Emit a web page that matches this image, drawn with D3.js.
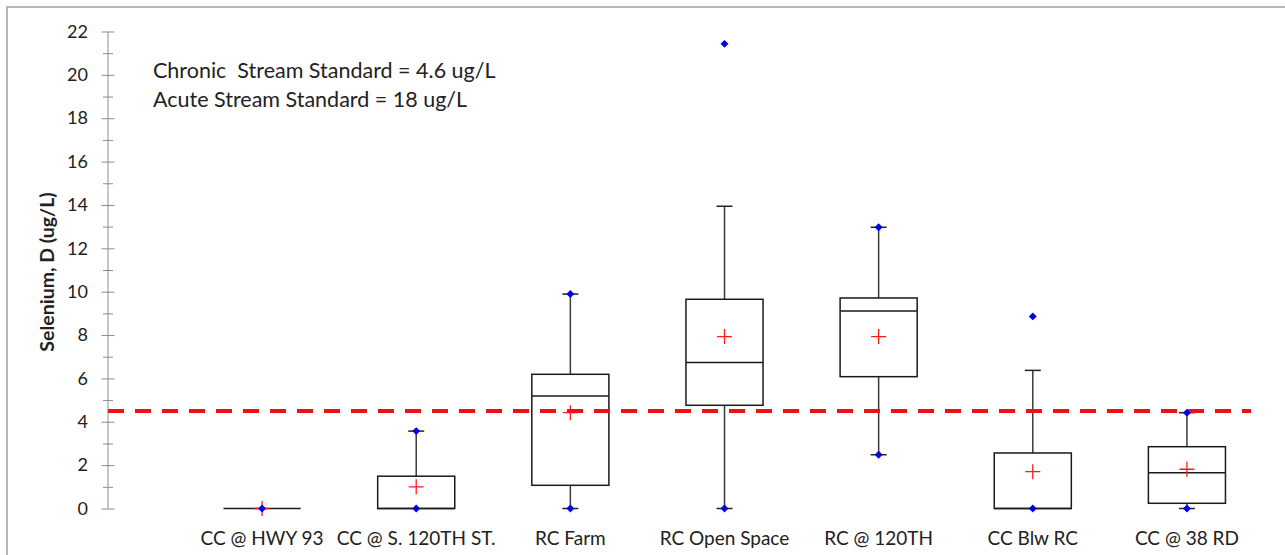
<!DOCTYPE html>
<html>
<head>
<meta charset="utf-8">
<script src="https://cdn.jsdelivr.net/npm/d3@7"></script>
<style>
  html, body { margin: 0; padding: 0; background: #fff; }
  svg { display: block; }
  text { font-family: Lato, "Open Sans", sans-serif; fill: #222; }
</style>
</head>
<body>
<svg id="chart" width="1285" height="555"></svg>
<script>
// ---- data ----
const categories = ["CC @ HWY 93", "CC @ S. 120TH ST.", "RC Farm", "RC Open Space", "RC @ 120TH", "CC Blw RC", "CC @ 38 RD"];
const q1Values      = [0, 0,    1.07, 4.76,  6.08,  0,    0.24];
const medianValues  = [0, 0,    5.19, 6.73,  9.11,  0,    1.65];
const q3Values      = [0, 1.49, 6.19, 9.65,  9.71,  2.56, 2.85];
const whiskerLow    = [0, 0,    0,    0,     2.48,  0,    0];
const whiskerHigh   = [0, 3.57, 9.89, 13.94, 12.97, 6.37, 4.42];
const meanValues    = [0, 1.0,  4.42, 7.93,  7.93,  1.70, 1.81];
const minValues     = [0, 0,    0,    0,     2.48,  0,    0];
const maxValues     = [0, 3.57, 9.89, 21.43, 12.97, 8.86, 4.42];
const majorTicks = [0, 2, 4, 6, 8, 10, 12, 14, 16, 18, 20, 22];
const minorTicks = [1, 3, 5, 7, 9, 11, 13, 15, 17, 19, 21];
const standardLine = 4.5;
const annotations = ["Chronic  Stream Standard = 4.6 ug/L", "Acute Stream Standard = 18 ug/L"];
const yTitle = "Selenium, D (ug/L)";

const rows = categories.map((c, i) => ({
  cat: c, q1: q1Values[i], med: medianValues[i], q3: q3Values[i],
  wlo: whiskerLow[i], whi: whiskerHigh[i], mean: meanValues[i],
  min: minValues[i], max: maxValues[i]
}));

const svg = d3.select("#chart");

// outer frame
svg.append("rect").attr("x", 7).attr("y", 7).attr("width", 1400).attr("height", 700)
  .attr("fill", "none").attr("stroke", "#a0a0a0").attr("stroke-width", 1.5);

const y = d3.scaleLinear().domain([0, 22]).range([508.5, 31.5]);
const x = d3.scaleBand().domain(categories).range([185, 1264]).paddingInner(0).paddingOuter(0);
const cx = c => x(c) + x.bandwidth() / 2;
const boxW = x.bandwidth() * 0.5;
const capW = 16;
const axisX = 108;

// y axis: minor ticks
svg.append("g").attr("transform", `translate(${axisX},0)`)
  .call(d3.axisLeft(y).tickValues(minorTicks).tickFormat(""))
  .call(g => g.select(".domain").remove())
  .call(g => g.selectAll(".tick line").attr("x1", -5).attr("x2", 5).attr("stroke", "#8c8c8c"));

// y axis: major ticks + labels
svg.append("g").attr("transform", `translate(${axisX},0)`)
  .call(d3.axisLeft(y).tickValues(majorTicks).tickSizeOuter(0))
  .call(g => g.select(".domain").attr("stroke", "#8c8c8c").attr("d", `M0,${y(22)}V${y(0)}`))
  .call(g => g.selectAll(".tick line").attr("x1", -6.5).attr("x2", 6.5).attr("stroke", "#8c8c8c"))
  .call(g => g.selectAll(".tick text").attr("x", -20).attr("font-size", 18)
    .attr("font-family", "Lato, sans-serif").attr("fill", "#333"));

// y title
svg.append("text")
  .attr("transform", `translate(54,${(y(0) + y(22)) / 2 + 2}) rotate(-90)`)
  .attr("text-anchor", "middle").attr("font-weight", "bold").attr("font-size", 19.5)
  .text(yTitle);

// category labels
svg.append("g").selectAll("text").data(categories).join("text")
  .attr("x", d => cx(d)).attr("y", 545)
  .attr("text-anchor", "middle").attr("font-size", 19).attr("fill", "#333")
  .text(d => d);

// annotations
svg.append("g").selectAll("text").data(annotations).join("text")
  .attr("x", 153).attr("y", (d, i) => 77.5 + i * 29.5)
  .attr("font-size", 21.5).attr("fill", "#333")
  .style("white-space", "pre")
  .text(d => d);

const boxes = svg.append("g").selectAll("g").data(rows).join("g");

// whiskers
boxes.append("line")
  .attr("x1", d => cx(d.cat)).attr("x2", d => cx(d.cat))
  .attr("y1", d => y(d.q3)).attr("y2", d => y(d.whi))
  .attr("stroke", "#3a3a3a").attr("stroke-width", 1.5);
boxes.append("line")
  .attr("x1", d => cx(d.cat)).attr("x2", d => cx(d.cat))
  .attr("y1", d => y(d.q1)).attr("y2", d => y(d.wlo))
  .attr("stroke", "#3a3a3a").attr("stroke-width", 1.5);
// caps
boxes.filter(d => d.whi > d.q3).append("line")
  .attr("x1", d => cx(d.cat) - capW / 2).attr("x2", d => cx(d.cat) + capW / 2)
  .attr("y1", d => y(d.whi)).attr("y2", d => y(d.whi))
  .attr("stroke", "#222").attr("stroke-width", 1.5);
boxes.filter(d => d.wlo < d.q1).append("line")
  .attr("x1", d => cx(d.cat) - capW / 2).attr("x2", d => cx(d.cat) + capW / 2)
  .attr("y1", d => y(d.wlo)).attr("y2", d => y(d.wlo))
  .attr("stroke", "#222").attr("stroke-width", 1.5);

// boxes
boxes.append("rect")
  .attr("x", d => cx(d.cat) - boxW / 2).attr("width", boxW)
  .attr("y", d => y(d.q3)).attr("height", d => y(d.q1) - y(d.q3))
  .attr("fill", "none").attr("stroke", "#1a1a1a").attr("stroke-width", 1.5);
// medians
boxes.append("line")
  .attr("x1", d => cx(d.cat) - boxW / 2).attr("x2", d => cx(d.cat) + boxW / 2)
  .attr("y1", d => y(d.med)).attr("y2", d => y(d.med))
  .attr("stroke", "#1a1a1a").attr("stroke-width", 1.5);

// standard dashed line
svg.append("line")
  .attr("x1", axisX).attr("x2", 1251)
  .attr("y1", y(standardLine)).attr("y2", y(standardLine))
  .attr("stroke", "#ee1111").attr("stroke-width", 4)
  .attr("stroke-dasharray", "16,11");

// mean crosses
const crossHalf = 7.5;
boxes.append("path")
  .attr("d", d => `M${cx(d.cat) - crossHalf},${y(d.mean)}H${cx(d.cat) + crossHalf}M${cx(d.cat)},${y(d.mean) - crossHalf}V${y(d.mean) + crossHalf}`)
  .attr("stroke", "#ff1a1a").attr("stroke-width", 1.3).attr("fill", "none");

// min / max markers
const diamond = d3.symbol().type(d3.symbolDiamond2).size(40);
const markers = [];
rows.forEach(d => { markers.push({cat: d.cat, v: d.min}); if (d.max !== d.min) markers.push({cat: d.cat, v: d.max}); });
svg.append("g").selectAll("path").data(markers).join("path")
  .attr("transform", d => `translate(${cx(d.cat)},${y(d.v)})`)
  .attr("d", diamond)
  .attr("fill", "#0000ee");
</script>
</body>
</html>
